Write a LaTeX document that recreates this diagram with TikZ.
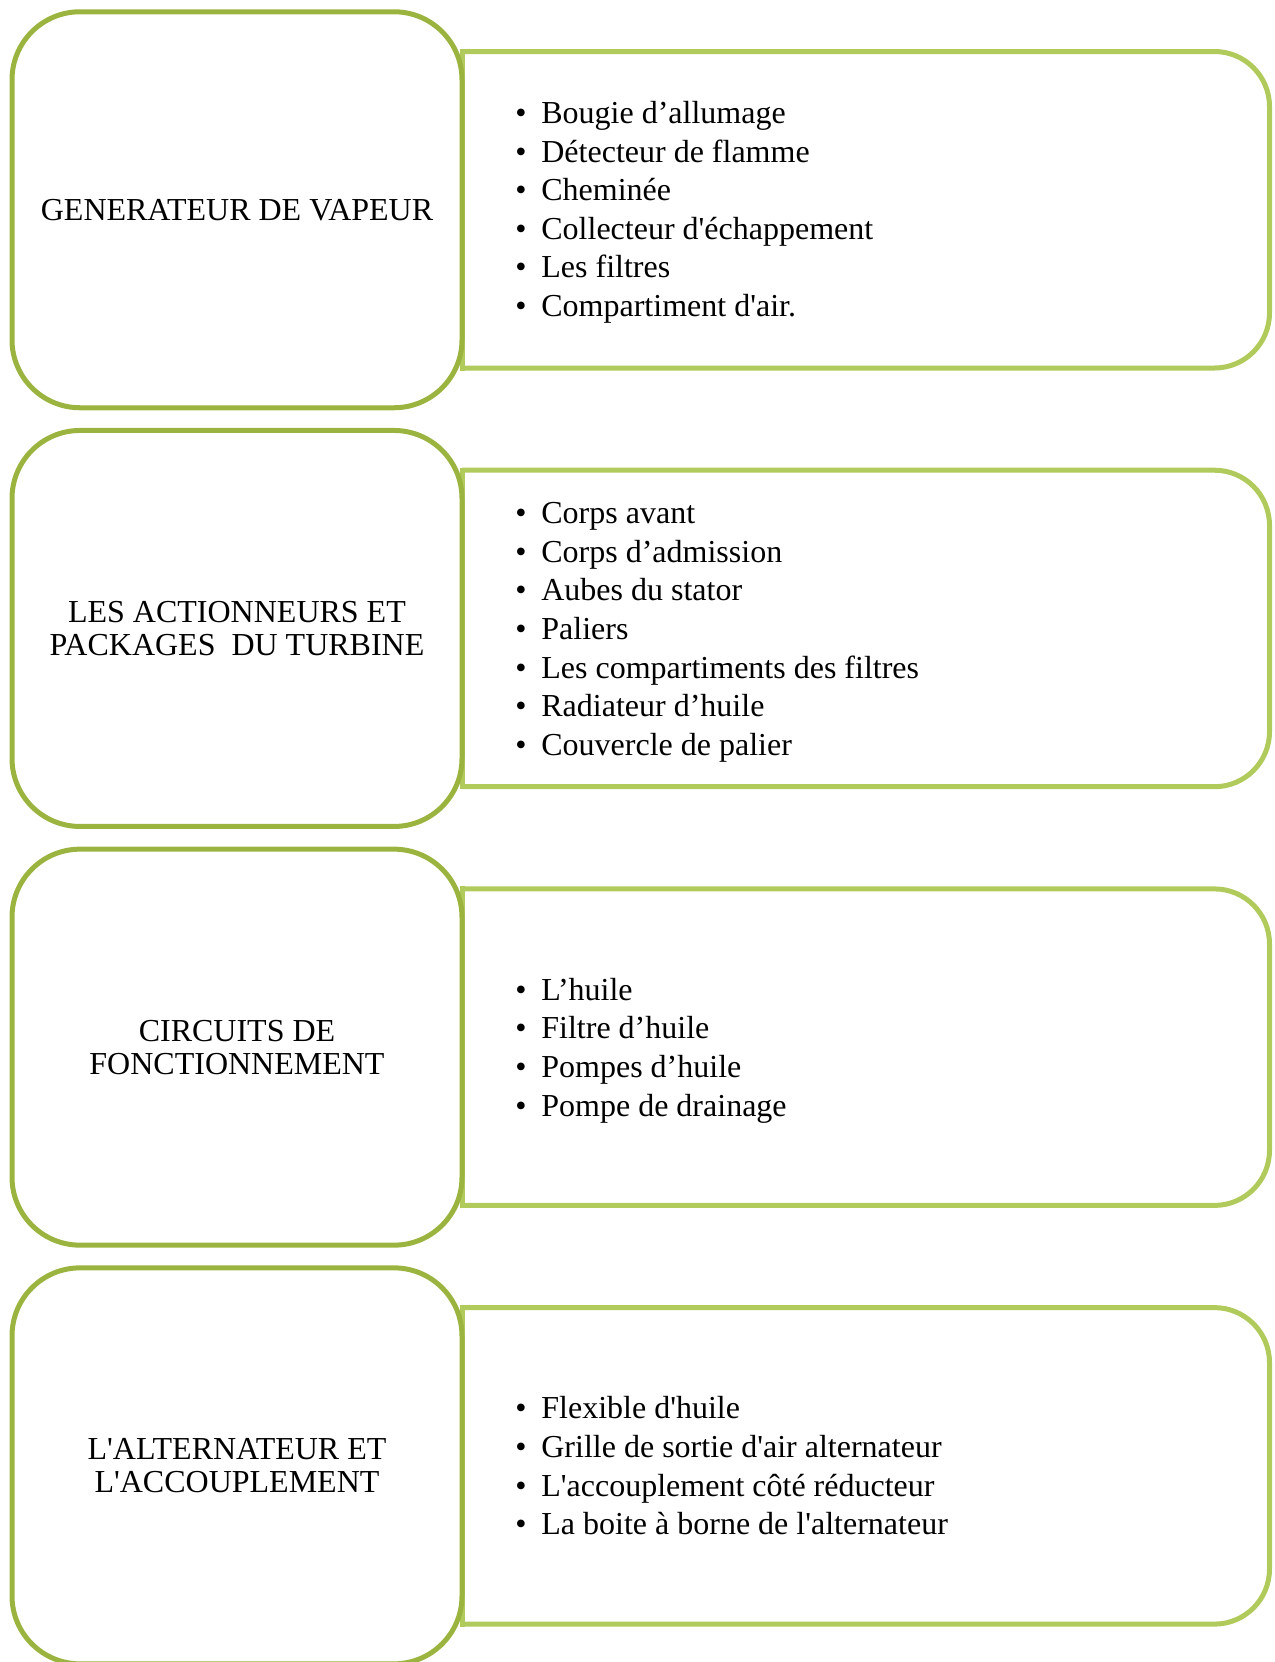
\documentclass[tikz,border=0pt]{standalone}
\usepackage{fontspec}
\setmainfont{Liberation Serif}[Ligatures=TeXOff]
\definecolor{headgreen}{HTML}{9BB440}
\definecolor{listgreen}{HTML}{B1CA5C}
\tikzset{
  headbox/.style={draw=headgreen, line width=2.5pt, fill=white,
    rounded corners=34pt, minimum width=225pt, minimum height=198pt,
    align=center, inner sep=0pt, font=\fontsize{16}{16.5}\selectfont},
  listframe/.style={draw=listgreen, line width=2.5pt},
  item/.style={anchor=base west, inner sep=0pt, font=\fontsize{16}{19}\selectfont},
}
\begin{document}
\begin{tikzpicture}[x=0.5pt, y=-0.5pt]
\useasboundingbox (0,0) rectangle (1275,1662);

% list frames: square on the left, rounded on the right
\foreach \k in {0,1,2,3}{
  \draw[listframe, rounded corners=27.5pt]
    (462,{51.5+\k*418.7}) -- (1269.5,{51.5+\k*418.7}) -- (1269.5,{368+\k*418.7}) -- (462,{368+\k*418.7});
  \draw[listframe, line cap=rect] (462,{51.5+\k*418.7}) -- (462,{368+\k*418.7});
}

% section headings
\node[headbox] (h1) at (237,209.75) {GENERATEUR DE VAPEUR};
\node[headbox] (h2) at (237,628.45) {LES ACTIONNEURS ET\\PACKAGES\ \ DU TURBINE};
\node[headbox] (h3) at (237,1047.15) {CIRCUITS DE\\FONCTIONNEMENT};
\node[headbox] (h4) at (237,1465.85) {L'ALTERNATEUR ET\\L'ACCOUPLEMENT};

% bullet lists
\foreach \t [count=\i] in {Bougie d’allumage, Détecteur de flamme, Cheminée,
    Collecteur d'échappement, Les filtres, Compartiment\ d'air.}
  \node[item] (a\i) at (515,{123.5+(\i-1)*38.6}) {\makebox[13pt][l]{\textbullet}\t};

\foreach \t [count=\i] in {Corps avant, Corps d’admission, Aubes du stator, Paliers,
    Les compartiments des filtres, Radiateur d’huile, Couvercle de palier}
  \node[item] (b\i) at (515,{523.65+(\i-1)*38.6}) {\makebox[13pt][l]{\textbullet}\t};

\foreach \t [count=\i] in {L’huile, Filtre d’huile, Pompes d’huile, Pompe de drainage}
  \node[item] (c\i) at (515,{1000.25+(\i-1)*38.6}) {\makebox[13pt][l]{\textbullet}\t};

\foreach \t [count=\i] in {Flexible d'huile, Grille de sortie d'air alternateur,
    L'accouplement côté réducteur, La boite à borne de l'alternateur}
  \node[item] (d\i) at (515,{1418.95+(\i-1)*38.6}) {\makebox[13pt][l]{\textbullet}\t};
\end{tikzpicture}
\end{document}
